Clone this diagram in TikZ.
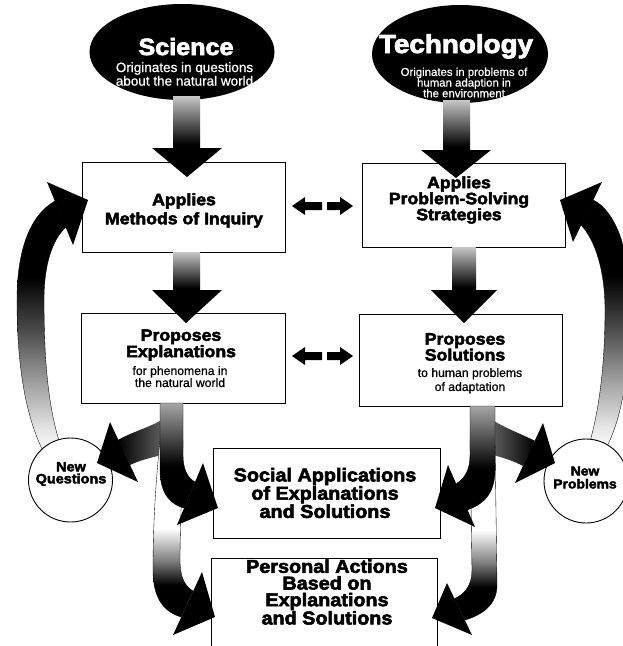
\documentclass[tikz,border=0pt]{standalone}
\usepackage{fontspec}
\usetikzlibrary{shapes.geometric}
\setmainfont{Liberation Sans}[UprightFeatures={FakeBold=0.7}]
\newfontfamily\heavyface{Liberation Sans}[UprightFont={* Bold}, UprightFeatures={FakeBold=3}, FakeStretch=1.07]
\newcommand\hvsize[2]{\heavyface\fontsize{#1}{#2}\selectfont}
\newcommand\rgsize[2]{\fontsize{#1}{#2}\selectfont}

% vertical fades (0bp = bottom, path box spans 25bp..75bp)
\pgfdeclareverticalshading{risefade}{100bp}{color(0bp)=(white); color(25bp)=(white); color(30bp)=(black!10); color(40bp)=(black!40); color(50bp)=(black!72); color(60bp)=(black); color(100bp)=(black)}
\pgfdeclareverticalshading{dropfade}{100bp}{color(0bp)=(black); color(30bp)=(black); color(75bp)=(black!22); color(100bp)=(black!22)}
\pgfdeclareverticalshading{branchfade}{100bp}{color(0bp)=(black); color(45bp)=(black); color(75bp)=(black!35); color(100bp)=(black!35)}
\pgfdeclareverticalshading{trunkfade}{100bp}{color(0bp)=(black); color(34bp)=(black); color(41bp)=(black!50); color(50bp)=(white); color(100bp)=(white)}

\begin{document}
\begin{tikzpicture}[x=1pt,y=-1pt,
  box/.style={draw=black, line width=0.9pt, fill=white, inner sep=0pt},
  bubble/.style={circle, draw=black, line width=0.9pt, fill=white, inner sep=0pt, minimum size=84},
  oval/.style={ellipse, fill=black, inner sep=0pt},
  solidhead/.style={fill=black},
  rim/.style={draw=black, line width=0.35pt},
  label/.style={inner sep=0pt, align=center}]

\useasboundingbox (0,0) rectangle (623,646);
\clip (0,0) rectangle (623,646);
\fill[white] (0,0) rectangle (623,646);

% the two origins
\node[oval, minimum width=185, minimum height=96] (sci) at (182,52) {};
\node[oval, minimum width=176, minimum height=98] (tech) at (460,54) {};

% boxes
\node[box, minimum width=203, minimum height=90] (b1) at (183.5,207) {};
\node[box, minimum width=203, minimum height=84] (b2) at (463.5,205) {};
\node[box, minimum width=204, minimum height=90] (b3) at (183,358) {};
\node[box, minimum width=203, minimum height=92] (b4) at (460.5,360) {};
\node[box, minimum width=227, minimum height=90] (soc) at (326.5,493) {};
\node[box, minimum width=226, minimum height=110] (per) at (324,613) {};

% feedback loops
\shadedraw[shading=risefade, rim] (55,201) .. controls (30,215) and (17,250) .. (17,300)
  .. controls (17,360) and (24,415) .. (45,455) -- (62,450)
  .. controls (48,410) and (44,360) .. (44,300) .. controls (44,265) and (52,240) .. (66,227) -- cycle;
\fill[solidhead] (47,182) -- (88,200) -- (73,245) -- cycle;
\shadedraw[shading=risefade, rim] (593,200) .. controls (615,210) and (630,250) .. (630,300)
  .. controls (630,360) and (625,415) .. (604,452) -- (588,448)
  .. controls (600,410) and (605,360) .. (605,310) .. controls (605,270) and (595,240) .. (581,225) -- cycle;
\fill[solidhead] (602,182) -- (560,200) -- (573,242) -- cycle;

\node[bubble] (nq) at (70.5,480) {};
\node[bubble] (np) at (586,481) {};

% straight arrows
\shade[shading=dropfade] (173,96) rectangle (200,150);
\fill[solidhead] (152,148) -- (222,148) -- (187,177) -- cycle;
\shade[shading=dropfade] (443,100) rectangle (470,152);
\fill[solidhead] (421,150) -- (491,150) -- (456,178) -- cycle;
\shade[shading=dropfade] (173,252) rectangle (200,292);
\fill[solidhead] (152,290) -- (222,290) -- (186,323) -- cycle;
\shade[shading=dropfade] (452,247) rectangle (476,292);
\fill[solidhead] (431,290) -- (497,290) -- (464,323) -- cycle;

% branches towards the new questions / problems
\shade[left color=black, right color=black!55] (172,412) .. controls (160,425) and (135,430) .. (118,440)
  -- (130,465) .. controls (145,458) and (160,456) .. (172,452) -- cycle;
\fill[solidhead] (110,422) -- (97,463) -- (138,482) -- cycle;
\shade[left color=black!55, right color=black] (483,412) .. controls (495,425) and (518,432) .. (535,441)
  -- (523,466) .. controls (508,458) and (495,456) .. (483,452) -- cycle;
\fill[solidhead] (543,423) -- (555,463) -- (515,483) -- cycle;

% trunks to personal actions
\shadedraw[shading=trunkfade, rim] (160,440) .. controls (155,490) and (153,530) .. (153,570)
  .. controls (153,600) and (165,612) .. (181,617) -- (193,591)
  .. controls (185,586) and (180,578) .. (180,560) .. controls (180,530) and (182,490) .. (183,440) -- cycle;
\fill[solidhead] (202,572) -- (215,617) -- (173,635) -- cycle;
\shadedraw[shading=trunkfade, rim] (470,440) -- (472,570) .. controls (472,585) and (465,594) .. (454.5,598.6)
  -- (465,620) .. controls (482,615) and (497,605) .. (497,585) -- (495,440) -- cycle;
\fill[solidhead] (447,583) -- (432,618) -- (472,635) -- cycle;

% trunks to social applications
\shadedraw[shading=branchfade, rim] (160,403) -- (160,470) .. controls (160,495) and (172,505) .. (184,508)
  -- (195,482) .. controls (188,478) and (183,470) .. (183,455) -- (183,403) -- cycle;
\fill[solidhead] (203,463) -- (218,508) -- (177,525) -- cycle;
\shadedraw[shading=branchfade, rim] (495,406) -- (495,470) .. controls (495,495) and (482,505) .. (467,510)
  -- (456,484) .. controls (465,478) and (470,470) .. (470,455) -- (470,406) -- cycle;
\fill[solidhead] (448,465) -- (435,508) -- (475,527) -- cycle;

% two-way links
\foreach \yy in {206,356}{
  \fill (292,\yy) -- (305,\yy-9) -- (305,\yy-4) -- (322,\yy-4) -- (322,\yy+4) -- (305,\yy+4) -- (305,\yy+9) -- cycle;
  \fill (353,\yy) -- (340,\yy-9) -- (340,\yy-4) -- (327,\yy-4) -- (327,\yy+4) -- (340,\yy+4) -- (340,\yy+9) -- cycle;
}

% texts
\node[label, anchor=base, text=white, font=\hvsize{23.5}{24}] (scit) at (186,55) {Science};
\node[label, text=white, font=\rgsize{13.5}{12}] (scis) at (184.5,74) {Originates in questions\\about the natural world};
\node[label, anchor=base, text=white, font=\hvsize{26}{26}] (techt) at (456,53) {Technology};
\node[label, text=white, font=\rgsize{11.4}{10.7}] (techs) at (464,82.5) {Originates in problems of\\human adaption in\\the environment};

\node[label, font=\hvsize{16.5}{19}] (b1t) at (184,210.5) {Applies\\Methods of Inquiry};
\node[label, font=\hvsize{16.5}{16}] (b2t) at (459,200) {Applies\\Problem-Solving\\Strategies};
\node[label, font=\hvsize{16.5}{15}] (b3t) at (181,345) {Proposes\\Explanations};
\node[label, font=\rgsize{12.2}{12}] (b3s) at (180,376.6) {for phenomena in\\the natural world};
\node[label, font=\hvsize{16.5}{16}] (b4t) at (465,347) {Proposes\\Solutions};
\node[label, font=\rgsize{12.2}{14}] (b4s) at (470,380.8) {to human problems\\of adaptation};
\node[label, font=\hvsize{18.5}{17}] (soct) at (325,493) {Social Applications\\of Explanations\\and Solutions};
\node[label, font=\hvsize{18.5}{16.7}] (pert) at (327,592) {Personal Actions\\Based on\\Explanations\\and Solutions};
\node[label, font=\hvsize{13.5}{12}] (nqt) at (71,474) {New\\Questions};
\node[label, font=\hvsize{13}{13}] (npt) at (585,477.5) {New\\Problems};
\end{tikzpicture}
\end{document}
